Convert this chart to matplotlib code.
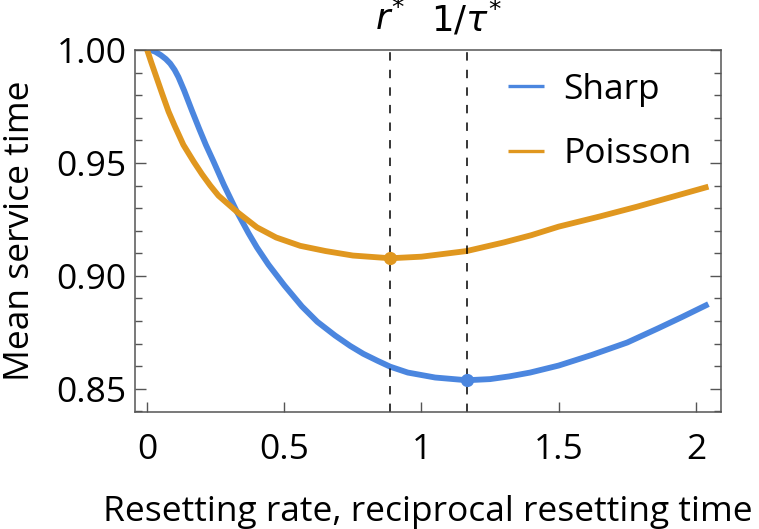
import numpy as np
import matplotlib.pyplot as plt
from matplotlib.ticker import MultipleLocator, FixedLocator

# values
sharp_x = [0.00, 0.015, 0.03, 0.05, 0.068, 0.084, 0.10, 0.114, 0.135, 0.163, 0.19,
           0.214, 0.242, 0.28, 0.327, 0.369, 0.40, 0.442, 0.50, 0.564, 0.62,
           0.685, 0.74, 0.788, 0.84, 0.886, 0.95, 1.05, 1.165, 1.25, 1.32,
           1.396, 1.50, 1.621, 1.75, 1.863, 1.95, 2.046]
sharp_y = [1.000, 0.9999, 0.9992, 0.9977, 0.9960, 0.9940, 0.9912, 0.9880, 0.9820, 0.9732, 0.9650,
           0.9580, 0.9506, 0.9402, 0.9284, 0.9190, 0.9126, 0.9050, 0.8958, 0.8865, 0.8797,
           0.8736, 0.8690, 0.8655, 0.8624, 0.8598, 0.8572, 0.8550, 0.8538, 0.8543, 0.8555,
           0.8572, 0.8603, 0.8650, 0.8705, 0.8768, 0.8818, 0.8875]

poisson_x = [0.00, 0.015, 0.035, 0.055, 0.078, 0.10, 0.132, 0.17, 0.20, 0.23, 0.26,
             0.327, 0.40, 0.47, 0.558, 0.65, 0.75, 0.886, 1.00, 1.165, 1.30,
             1.40, 1.50, 1.65, 1.785, 1.92, 2.046]
poisson_y = [1.000, 0.9945, 0.9875, 0.9805, 0.9727, 0.9665, 0.958, 0.9505, 0.9450, 0.9400, 0.9355,
             0.9284, 0.9215, 0.9170, 0.9133, 0.9110, 0.9090, 0.9078, 0.9085, 0.9110, 0.9148,
             0.9180, 0.9218, 0.9263, 0.9306, 0.9352, 0.9395]

r_star = 0.886        # optimal Poisson rate
inv_tau_star = 1.165  # optimal sharp reciprocal time
poisson_min = 0.9078
sharp_min = 0.8538

BLUE = '#4B86DF'
ORANGE = '#E0971F'
FRAME = '#555555'
FS = 25.5

plt.rcParams['font.family'] = ['Open Sans', 'DejaVu Sans']
plt.rcParams['mathtext.fontset'] = 'dejavusans'

fig = plt.figure(figsize=(7.59, 5.29), dpi=100)
ax = fig.add_axes([0.178, 0.221, 0.772, 0.6845])

ax.plot(sharp_x, sharp_y, color=BLUE, lw=4.2, label='Sharp', solid_capstyle='butt',
        solid_joinstyle='round')
ax.plot(poisson_x, poisson_y, color=ORANGE, lw=4.2, label='Poisson', solid_capstyle='butt',
        solid_joinstyle='round')

for xv in (r_star, inv_tau_star):
    ax.axvline(xv, color='black', lw=1.1, dashes=(5.5, 6))

ax.plot([r_star], [poisson_min], 'o', color=ORANGE, ms=8.5, zorder=5)
ax.plot([inv_tau_star], [sharp_min], 'o', color=BLUE, ms=8.5, zorder=5)

ax.set_xlim(-0.044, 2.092)
ax.set_ylim(0.8397, 1.0)

ax.xaxis.set_major_locator(FixedLocator([0, 0.5, 1, 1.5, 2]))
ax.set_xticklabels(['0', '0.5', '1', '1.5', '2'])
ax.yaxis.set_major_locator(FixedLocator([0.85, 0.90, 0.95, 1.00]))
ax.set_yticklabels(['0.85', '0.90', '0.95', '1.00'])
ax.yaxis.set_minor_locator(MultipleLocator(0.01))

ax.tick_params(axis='both', which='both', direction='in', colors=FRAME,
               labelcolor='black', labelsize=FS)
ax.tick_params(axis='y', which='major', length=8, width=1, right=True, pad=6)
ax.tick_params(axis='y', which='minor', length=5, width=1, right=True)
ax.tick_params(axis='x', which='major', length=7, width=1, top=False, pad=15)
for s in ax.spines.values():
    s.set_color(FRAME)
    s.set_linewidth(1.1)

ax.set_xlabel('Resetting rate, reciprocal resetting time', fontsize=FS, labelpad=20)
ax.set_ylabel('Mean service time', fontsize=FS, labelpad=14)

ax.text(r_star, 1.083, r'$r^{*}$', fontsize=FS, ha='center', va='center',
        transform=ax.get_xaxis_transform())
ax.text(inv_tau_star, 1.083, r'$1/\tau^{*}$', fontsize=FS, ha='center', va='center',
        transform=ax.get_xaxis_transform())

leg = ax.legend(loc='upper right', bbox_to_anchor=(0.95, 0.937), frameon=False,
                fontsize=FS, handlelength=1.0, handletextpad=0.55,
                labelspacing=0.85, borderpad=0, borderaxespad=0)
for h in leg.get_lines():
    h.set_linewidth(2.4)

fig.savefig('out.png', dpi=100)
